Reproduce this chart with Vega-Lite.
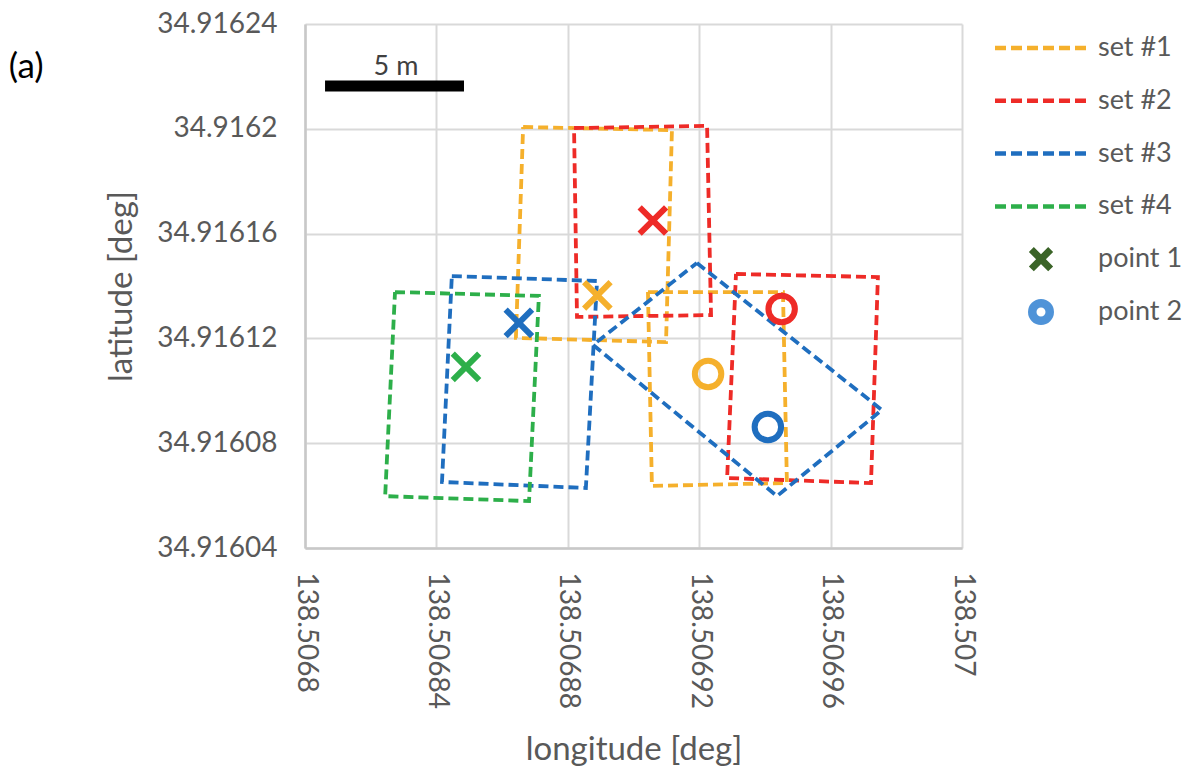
{
  "$schema": "https://vega.github.io/schema/vega-lite/v6.json",
  "width": 657,
  "height": 524,
  "autosize": "none",
  "padding": {"left": 305, "top": 24, "right": 230, "bottom": 219},
  "background": "white",
  "config": {
    "font": "Lato",
    "view": {"stroke": null},
    "axis": {
      "labelFont": "Lato", "labelFontSize": 28, "labelColor": "#595959",
      "titleFont": "Lato", "titleFontSize": 33, "titleColor": "#595959", "titleFontWeight": "normal",
      "gridColor": "#d9d9d9", "gridWidth": 2, "domainColor": "#c8c8c8", "domainWidth": 2.5,
      "ticks": false, "tickSize": 0, "labelFlush": false, "labelOverlap": false
    }
  },
  "datasets": {
    "polys": [
      {"set": "set #1", "poly": "1a", "i": 1, "lon": 138.5068664, "lat": 34.9162007},
      {"set": "set #1", "poly": "1a", "i": 2, "lon": 138.5069117, "lat": 34.9161995},
      {"set": "set #1", "poly": "1a", "i": 3, "lon": 138.5069099, "lat": 34.9161186},
      {"set": "set #1", "poly": "1a", "i": 4, "lon": 138.5068642, "lat": 34.9161202},
      {"set": "set #1", "poly": "1a", "i": 5, "lon": 138.5068664, "lat": 34.9162007},
      {"set": "set #1", "poly": "1b", "i": 1, "lon": 138.5069044, "lat": 34.9161377},
      {"set": "set #1", "poly": "1b", "i": 2, "lon": 138.5069455, "lat": 34.9161377},
      {"set": "set #1", "poly": "1b", "i": 3, "lon": 138.5069467, "lat": 34.9160648},
      {"set": "set #1", "poly": "1b", "i": 4, "lon": 138.5069056, "lat": 34.9160637},
      {"set": "set #1", "poly": "1b", "i": 5, "lon": 138.5069044, "lat": 34.9161377},
      {"set": "set #2", "poly": "2a", "i": 1, "lon": 138.5068819, "lat": 34.9162003},
      {"set": "set #2", "poly": "2a", "i": 2, "lon": 138.5069224, "lat": 34.9162011},
      {"set": "set #2", "poly": "2a", "i": 3, "lon": 138.5069236, "lat": 34.9161289},
      {"set": "set #2", "poly": "2a", "i": 4, "lon": 138.5068828, "lat": 34.9161282},
      {"set": "set #2", "poly": "2a", "i": 5, "lon": 138.5068819, "lat": 34.9162003},
      {"set": "set #2", "poly": "2b", "i": 1, "lon": 138.5069312, "lat": 34.9161446},
      {"set": "set #2", "poly": "2b", "i": 2, "lon": 138.5069744, "lat": 34.9161434},
      {"set": "set #2", "poly": "2b", "i": 3, "lon": 138.5069723, "lat": 34.9160648},
      {"set": "set #2", "poly": "2b", "i": 4, "lon": 138.5069285, "lat": 34.9160667},
      {"set": "set #2", "poly": "2b", "i": 5, "lon": 138.5069312, "lat": 34.9161446},
      {"set": "set #3", "poly": "3a", "i": 1, "lon": 138.5068447, "lat": 34.9161438},
      {"set": "set #3", "poly": "3a", "i": 2, "lon": 138.5068889, "lat": 34.9161419},
      {"set": "set #3", "poly": "3a", "i": 3, "lon": 138.5068855, "lat": 34.9160629},
      {"set": "set #3", "poly": "3a", "i": 4, "lon": 138.5068417, "lat": 34.9160652},
      {"set": "set #3", "poly": "3a", "i": 5, "lon": 138.5068447, "lat": 34.9161438},
      {"set": "set #3", "poly": "3b", "i": 1, "lon": 138.5069193, "lat": 34.9161488},
      {"set": "set #3", "poly": "3b", "i": 2, "lon": 138.5069756, "lat": 34.9160927},
      {"set": "set #3", "poly": "3b", "i": 3, "lon": 138.5069437, "lat": 34.9160598},
      {"set": "set #3", "poly": "3b", "i": 4, "lon": 138.5068877, "lat": 34.9161175},
      {"set": "set #3", "poly": "3b", "i": 5, "lon": 138.5069193, "lat": 34.9161488},
      {"set": "set #4", "poly": "4a", "i": 1, "lon": 138.5068274, "lat": 34.9161377},
      {"set": "set #4", "poly": "4a", "i": 2, "lon": 138.5068712, "lat": 34.9161362},
      {"set": "set #4", "poly": "4a", "i": 3, "lon": 138.5068682, "lat": 34.9160579},
      {"set": "set #4", "poly": "4a", "i": 4, "lon": 138.5068244, "lat": 34.9160598},
      {"set": "set #4", "poly": "4a", "i": 5, "lon": 138.5068274, "lat": 34.9161377}
    ],
    "pts": [
      {"set": "set #1", "pt": "point 1", "lon": 138.5068890, "lat": 34.9161364},
      {"set": "set #2", "pt": "point 1", "lon": 138.5069059, "lat": 34.9161650},
      {"set": "set #3", "pt": "point 1", "lon": 138.5068651, "lat": 34.9161259},
      {"set": "set #4", "pt": "point 1", "lon": 138.5068490, "lat": 34.9161091},
      {"set": "set #1", "pt": "point 2", "lon": 138.5069227, "lat": 34.9161064},
      {"set": "set #2", "pt": "point 2", "lon": 138.5069451, "lat": 34.9161312},
      {"set": "set #3", "pt": "point 2", "lon": 138.5069409, "lat": 34.9160862}
    ],
    "bar": [{"lon": 138.5068061, "lon2": 138.5068484, "lat": 34.9162163}],
    "notes": [
      {"txt": "5 m", "lon": 138.5068277, "lat": 34.9162205}
    ],
    "panel": [
      {"txt": "(a)", "lon": 138.5067151, "lat": 34.9162236}
    ]
  },
  "encoding": {
    "x": {
      "field": "lon", "type": "quantitative",
      "scale": {"domain": [138.5068, 138.507], "zero": false, "nice": false},
      "axis": {
        "values": [138.5068, 138.50684, 138.50688, 138.50692, 138.50696, 138.507],
        "format": ".8~g", "labelAngle": 90, "labelPadding": 24,
        "title": "longitude [deg]", "titlePadding": 25
      }
    },
    "y": {
      "field": "lat", "type": "quantitative",
      "scale": {"domain": [34.91604, 34.91624], "zero": false, "nice": false},
      "axis": {
        "values": [34.91604, 34.91608, 34.91612, 34.91616, 34.9162, 34.91624],
        "format": ".7~g", "labelPadding": 28,
        "title": "latitude [deg]", "titlePadding": 18
      }
    }
  },
  "layer": [
    {
      "data": {"name": "polys"},
      "mark": {"type": "line", "strokeWidth": 3.8, "strokeDash": [10, 5], "strokeCap": "butt"},
      "encoding": {
        "detail": {"field": "poly"},
        "order": {"field": "i", "type": "quantitative"},
        "color": {
          "field": "set", "type": "nominal",
          "scale": {
            "domain": ["set #1", "set #2", "set #3", "set #4", "point 1", "point 2"],
            "range": ["#f5b02c", "#ee2b27", "#1f6ebf", "#2daf4a", "#3b6428", "#4f93d8"]
          },
          "legend": {
            "orient": "none", "legendX": 690, "legendY": 10, "title": null, "padding": 0,
            "symbolType": "stroke", "symbolStrokeWidth": 4.5, "clipHeight": 28,
            "symbolOffset": 32.5, "rowPadding": 24.8, "labelOffset": 43.5,
            "labelFontSize": 27, "labelColor": "#595959", "labelFont": "Lato",
            "encode": {
              "symbols": {
                "update": {
                  "shape": {"signal": "datum.value === 'point 1' ? 'M -0.21 -0.21 L 0.21 0.21 M -0.21 0.21 L 0.21 -0.21' : (datum.value === 'point 2' ? 'M 0.19 0 A 0.19 0.19 0 1 1 -0.19 0 A 0.19 0.19 0 1 1 0.19 0 Z' : 'stroke')"},
                  "strokeDash": {"signal": "(datum.value === 'point 1' || datum.value === 'point 2') ? [] : [11, 5]"},
                  "strokeWidth": {"signal": "datum.value === 'point 1' ? 7 : (datum.value === 'point 2' ? 8.5 : 4.5)"},
                  "size": {"value": 8464},
                  "opacity": {"value": 1}
                }
              }
            }
          }
        }
      }
    },
    {
      "data": {"name": "pts"},
      "mark": {"type": "point", "filled": false, "size": 700, "strokeWidth": 6, "opacity": 1, "strokeCap": "butt"},
      "encoding": {
        "stroke": {
          "field": "set", "type": "nominal",
          "scale": {"domain": ["set #1", "set #2", "set #3", "set #4"], "range": ["#f5b02c", "#ee2b27", "#1f6ebf", "#2daf4a"]},
          "legend": null
        },
        "shape": {
          "field": "pt", "type": "nominal",
          "scale": {"domain": ["point 1", "point 2"], "range": ["M -1 -1 L 1 1 M -1 1 L 1 -1", "circle"]},
          "legend": null
        }
      }
    },
    {
      "data": {"name": "bar"},
      "mark": {"type": "rule", "strokeWidth": 11, "color": "black", "strokeCap": "butt"},
      "encoding": {"x2": {"field": "lon2"}}
    },
    {
      "data": {"name": "notes"},
      "mark": {"type": "text", "fontSize": 27, "color": "#404040", "align": "center", "baseline": "alphabetic", "font": "Lato"},
      "encoding": {"text": {"field": "txt"}}
    },
    {
      "data": {"name": "panel"},
      "mark": {"type": "text", "fontSize": 35, "color": "black", "align": "center", "baseline": "middle", "font": "Lato"},
      "encoding": {"text": {"field": "txt"}}
    }
  ]
}
